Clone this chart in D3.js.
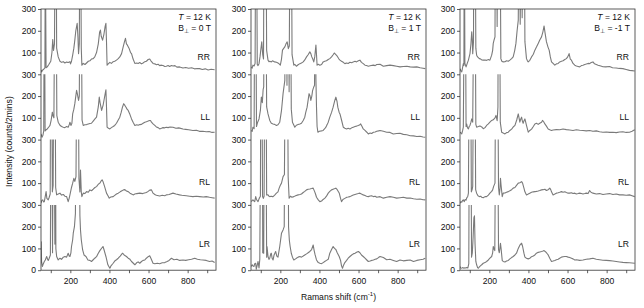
<!DOCTYPE html>
<html>
<head>
<meta charset="utf-8">
<script src="https://cdn.jsdelivr.net/npm/d3@7"></script>
<style>
  html, body { margin: 0; padding: 0; background: #fff; }
  svg { display: block; }
</style>
</head>
<body>
<div id="chart"></div>
<script>
// Raman spectra, T = 12 K, three field values, four polarisation configurations
const fields = ['0', '1', '-1'];
const polarizations = ['RR', 'LL', 'RL', 'LR'];
const xTicks = [100, 200, 300, 400, 500, 600, 700, 800, 900];
const xLabels = [200, 400, 600, 800];
const yTicks = [0, 100, 200, 300];

// [Raman shift (cm-1), counts/2mins]; spikes above 300 are clipped like the original
const b0_RR = [[50,20],[53,11],[57,18],[62,22],[70,30],[72,600],[76,30],[82,34],[90,45],[100,60],[106,100],[110,160],[114,110],[119,140],[123,800],[127,800],[130,120],[138,80],[147,60],[155,55],[164,58],[172,52],[181,56],[189,54],[198,58],[201,48],[206,60],[212,88],[218,120],[223,157],[228,200],[235,234],[239,170],[242,95],[246,140],[249,800],[252,800],[256,120],[259,42],[266,50],[275,45],[283,52],[292,60],[300,62],[308,70],[317,72],[325,80],[334,100],[343,140],[350,195],[354,203],[358,175],[365,157],[372,185],[378,220],[382,234],[385,150],[388,42],[394,48],[402,55],[410,50],[419,58],[427,60],[436,65],[445,72],[453,80],[462,95],[470,125],[477,150],[482,165],[487,140],[492,134],[500,120],[508,100],[513,95],[521,70],[530,50],[540,52],[547,50],[555,54],[564,48],[572,52],[581,58],[589,60],[598,68],[606,70],[612,62],[623,50],[632,48],[640,44],[649,46],[657,40],[666,42],[674,40],[683,36],[691,37],[700,40],[708,36],[717,40],[725,38],[735,40],[745,33],[759,34],[776,29],[790,31],[805,28],[820,30],[835,25],[850,27],[861,26],[875,22],[890,25],[905,20],[920,23],[938,21]];
const b0_LL = [[50,26],[55,11],[60,20],[64,40],[67,800],[71,40],[76,45],[82,49],[90,58],[96,65],[102,90],[108,126],[111,110],[116,100],[121,800],[127,800],[131,110],[138,80],[147,66],[155,60],[164,57],[172,55],[181,60],[189,57],[195,70],[198,80],[203,65],[208,75],[212,118],[218,140],[223,165],[228,200],[232,226],[236,210],[242,180],[246,200],[249,800],[255,800],[260,90],[266,65],[274,68],[283,69],[292,72],[300,74],[308,75],[317,85],[326,95],[334,103],[343,150],[348,195],[352,170],[360,134],[368,160],[374,190],[379,215],[382,229],[385,150],[388,57],[395,52],[402,49],[410,55],[419,60],[427,65],[436,75],[445,90],[453,103],[460,125],[467,150],[473,165],[479,157],[484,150],[490,140],[496,134],[505,115],[513,95],[521,80],[530,65],[540,68],[547,66],[555,69],[564,70],[572,75],[581,80],[589,82],[598,85],[606,88],[610,88],[615,80],[623,72],[632,65],[640,58],[649,55],[657,49],[666,52],[674,55],[683,54],[691,57],[700,55],[710,58],[725,57],[740,52],[755,54],[776,49],[790,47],[805,45],[827,42],[845,43],[860,38],[878,38],[895,36],[910,37],[925,33],[938,34]];
const b0_RL = [[50,8],[54,20],[59,23],[63,14],[67,15],[72,40],[76,61],[80,30],[87,23],[92,35],[97,50],[100,800],[104,800],[108,60],[112,90],[116,800],[121,800],[125,80],[130,46],[138,50],[147,54],[155,45],[164,48],[172,40],[181,38],[189,15],[194,30],[198,46],[206,80],[212,100],[218,122],[223,108],[229,130],[234,800],[240,800],[244,120],[249,60],[252,160],[256,60],[259,38],[266,54],[274,52],[283,61],[292,58],[300,69],[308,65],[317,72],[326,80],[334,84],[343,95],[351,100],[359,112],[363,115],[368,105],[375,85],[385,54],[394,40],[399,31],[407,36],[419,38],[427,44],[436,50],[445,54],[455,60],[464,65],[472,69],[479,70],[487,64],[496,61],[505,54],[513,50],[521,46],[530,50],[540,52],[555,54],[570,52],[589,57],[598,62],[606,68],[615,69],[623,54],[632,48],[640,44],[657,41],[670,44],[683,42],[691,46],[705,48],[725,54],[740,50],[759,46],[770,44],[793,42],[810,40],[827,38],[845,40],[861,38],[880,36],[895,38],[912,35],[925,33],[938,31]];
const b0_LR = [[50,32],[51,131],[53,40],[57,17],[62,30],[67,40],[72,47],[79,63],[84,50],[87,45],[92,55],[98,70],[101,800],[105,800],[109,80],[113,800],[117,800],[121,120],[124,800],[126,100],[130,63],[138,47],[147,55],[155,50],[164,60],[172,63],[181,60],[189,78],[194,65],[198,63],[203,80],[206,109],[212,140],[215,170],[221,200],[226,260],[230,800],[244,800],[249,250],[252,185],[256,140],[263,93],[270,70],[280,63],[290,47],[300,45],[308,40],[317,48],[325,55],[334,62],[343,78],[351,90],[360,101],[367,109],[372,95],[382,63],[392,25],[397,17],[402,9],[408,20],[419,32],[427,42],[436,48],[445,55],[455,65],[467,78],[475,70],[487,63],[496,55],[505,50],[513,40],[521,33],[530,25],[540,35],[547,38],[555,32],[564,40],[572,45],[581,47],[589,55],[598,62],[606,66],[612,55],[623,32],[632,30],[645,32],[657,30],[670,34],[683,35],[695,40],[705,45],[717,55],[730,48],[745,50],[759,45],[776,47],[790,45],[805,48],[820,50],[836,55],[850,50],[865,48],[878,47],[895,45],[912,40],[925,42],[938,35]];

const b1_RR = [[52,34],[56,28],[60,42],[66,38],[71,50],[74,800],[78,800],[82,45],[86,40],[91,49],[96,80],[100,111],[105,149],[110,90],[114,70],[117,800],[126,800],[130,110],[137,65],[142,58],[146,60],[154,57],[160,62],[171,57],[180,55],[188,52],[194,48],[200,42],[206,70],[211,111],[218,120],[223,126],[229,140],[235,149],[241,118],[246,130],[250,800],[256,800],[260,90],[269,42],[274,46],[282,37],[291,44],[300,49],[308,52],[317,57],[325,66],[334,80],[342,90],[351,103],[356,95],[361,80],[366,70],[371,57],[376,80],[382,134],[385,90],[388,42],[394,46],[402,42],[411,45],[419,57],[427,60],[436,62],[445,68],[453,72],[462,80],[470,90],[476,98],[479,95],[484,90],[491,83],[500,70],[505,65],[513,60],[522,55],[530,49],[539,52],[547,50],[556,55],[565,53],[573,57],[582,60],[590,57],[599,62],[607,65],[615,55],[624,49],[633,42],[641,40],[650,37],[659,39],[676,42],[685,40],[693,45],[710,46],[727,37],[744,40],[761,42],[778,40],[795,37],[812,34],[829,36],[847,37],[864,34],[881,33],[898,34],[915,30],[930,28],[941,26]];
const b1_LL = [[52,42],[56,38],[60,57],[66,50],[69,800],[74,800],[78,60],[84,80],[91,95],[98,134],[103,195],[106,180],[108,170],[112,230],[115,242],[118,800],[126,800],[130,150],[137,118],[146,88],[154,75],[163,72],[171,70],[180,65],[188,68],[197,80],[206,134],[214,211],[223,272],[226,800],[230,800],[234,250],[237,800],[241,800],[245,220],[249,800],[252,800],[256,140],[262,80],[270,65],[274,57],[282,66],[291,69],[300,72],[308,75],[317,88],[325,103],[330,125],[337,149],[347,211],[352,200],[356,180],[361,200],[365,225],[371,242],[375,250],[378,800],[382,280],[385,150],[388,60],[392,34],[400,38],[410,40],[419,42],[427,50],[433,57],[440,70],[445,80],[453,103],[462,125],[470,149],[477,175],[484,195],[490,175],[494,149],[501,125],[505,118],[513,90],[522,57],[530,52],[539,49],[547,52],[556,49],[565,54],[573,57],[582,60],[590,62],[599,65],[607,68],[611,72],[618,60],[624,49],[633,42],[641,35],[650,26],[659,30],[667,28],[676,34],[685,35],[693,38],[702,40],[710,42],[727,38],[744,34],[761,33],[778,26],[795,28],[812,29],[829,24],[847,22],[864,18],[881,17],[898,14],[915,15],[930,12],[941,11]];
const b1_RL = [[52,15],[56,20],[60,23],[65,18],[69,15],[74,38],[78,25],[86,15],[92,30],[98,40],[101,800],[105,800],[109,40],[113,30],[117,40],[121,800],[126,800],[130,46],[137,46],[142,40],[146,38],[154,40],[160,38],[163,38],[171,45],[180,54],[188,60],[194,77],[200,90],[206,100],[214,130],[221,140],[226,800],[236,800],[240,130],[245,31],[252,40],[259,35],[269,38],[278,42],[291,46],[300,48],[308,50],[317,57],[325,62],[334,69],[342,72],[351,73],[360,75],[368,77],[376,60],[380,50],[385,35],[394,23],[402,15],[411,18],[419,25],[428,31],[436,40],[445,54],[453,62],[462,69],[470,72],[479,75],[484,77],[491,70],[501,55],[508,30],[513,15],[520,25],[530,30],[540,35],[547,36],[556,38],[565,42],[573,45],[582,48],[590,50],[599,52],[607,54],[615,50],[624,46],[633,43],[641,40],[650,38],[659,41],[667,42],[676,38],[685,40],[693,35],[710,38],[727,31],[744,35],[761,38],[778,35],[795,31],[812,33],[829,35],[847,31],[864,32],[881,28],[898,26],[915,27],[930,24],[941,23]];
const b1_LR = [[52,17],[56,25],[60,20],[65,17],[69,30],[74,32],[77,5],[81,20],[86,40],[91,10],[95,50],[100,800],[104,800],[108,800],[110,80],[115,78],[118,800],[126,800],[130,60],[132,109],[137,63],[142,50],[146,55],[151,75],[154,78],[158,55],[163,47],[168,70],[176,86],[182,65],[188,60],[197,109],[206,170],[214,185],[220,200],[223,800],[240,800],[242,200],[246,139],[250,110],[256,78],[262,60],[269,47],[278,52],[282,55],[291,60],[300,63],[308,60],[317,65],[325,70],[334,75],[342,80],[351,86],[360,95],[368,116],[373,90],[378,70],[385,47],[394,35],[402,32],[411,30],[419,35],[427,40],[436,45],[445,50],[453,78],[462,95],[470,109],[477,100],[484,95],[491,80],[501,63],[508,45],[513,20],[518,9],[522,20],[530,35],[539,45],[547,55],[556,63],[565,70],[573,75],[582,78],[590,82],[599,86],[607,80],[615,70],[624,63],[633,55],[641,48],[650,40],[659,42],[667,45],[676,47],[685,50],[693,52],[702,58],[710,63],[727,58],[744,48],[761,50],[778,45],[795,40],[812,47],[829,43],[847,45],[864,47],[881,40],[898,45],[915,48],[930,50],[941,55]];

const bm1_RR = [[50,26],[55,15],[59,11],[63,30],[67,49],[70,40],[72,800],[75,50],[81,34],[87,50],[93,65],[101,95],[106,140],[110,195],[113,160],[115,95],[119,150],[121,800],[127,800],[131,120],[135,88],[140,80],[149,72],[156,70],[161,66],[169,65],[178,66],[186,64],[195,68],[203,65],[212,88],[217,110],[220,142],[225,160],[229,172],[231,800],[236,800],[240,220],[243,800],[254,800],[259,72],[264,60],[271,57],[280,58],[288,62],[297,60],[305,65],[314,72],[322,80],[330,110],[336,142],[342,200],[348,249],[352,800],[358,230],[363,800],[368,260],[372,800],[378,800],[382,150],[390,72],[395,62],[399,57],[407,64],[416,80],[425,92],[433,111],[441,125],[450,142],[458,158],[467,172],[474,195],[480,222],[485,190],[492,150],[500,125],[506,111],[512,80],[518,57],[526,50],[535,42],[543,48],[552,50],[560,57],[569,60],[577,62],[586,68],[594,72],[601,80],[608,95],[614,70],[620,65],[628,50],[637,42],[645,38],[654,36],[662,34],[671,40],[679,42],[688,45],[696,47],[705,50],[713,49],[721,54],[730,57],[738,48],[747,45],[756,42],[770,38],[781,35],[795,34],[815,36],[830,30],[849,29],[865,27],[883,26],[900,22],[917,18],[930,17],[943,15]];
const bm1_LL = [[50,34],[55,30],[59,26],[63,40],[67,57],[73,800],[77,800],[81,60],[84,72],[88,55],[93,49],[97,60],[101,65],[106,80],[110,95],[115,80],[122,800],[127,800],[131,70],[135,57],[144,60],[152,63],[161,58],[169,50],[178,55],[186,65],[195,72],[203,80],[212,88],[220,91],[229,100],[234,111],[240,87],[244,150],[246,800],[252,800],[256,80],[263,34],[271,30],[280,26],[288,32],[297,34],[305,42],[314,48],[322,58],[331,65],[340,90],[348,118],[352,100],[356,80],[361,95],[365,103],[369,85],[373,75],[378,88],[382,95],[386,80],[390,65],[399,34],[407,42],[416,48],[425,60],[433,72],[441,75],[450,70],[458,75],[467,80],[472,88],[478,82],[484,72],[492,62],[501,49],[509,45],[518,42],[526,44],[543,46],[560,45],[577,49],[594,46],[611,44],[628,42],[645,45],[662,43],[679,42],[696,40],[713,42],[730,38],[747,40],[764,36],[781,34],[798,35],[815,33],[832,34],[849,32],[866,35],[883,36],[900,33],[917,34],[930,38],[943,45]];
const bm1_RL = [[50,8],[55,15],[59,12],[63,20],[67,23],[72,15],[76,25],[81,22],[84,31],[90,40],[93,54],[98,800],[104,800],[108,60],[112,70],[115,85],[120,800],[126,800],[130,70],[135,54],[142,42],[149,38],[156,40],[161,35],[169,33],[178,38],[186,38],[195,45],[203,54],[212,62],[217,69],[222,85],[229,100],[233,800],[242,800],[247,80],[251,46],[254,70],[257,122],[260,90],[266,38],[271,54],[280,55],[288,58],[297,61],[305,65],[314,70],[322,77],[331,80],[339,90],[348,100],[356,102],[365,107],[370,100],[377,77],[382,60],[390,46],[399,50],[407,54],[416,58],[425,60],[433,61],[441,62],[450,64],[458,66],[467,69],[475,70],[484,72],[492,66],[501,70],[509,77],[514,70],[518,60],[526,46],[535,50],[543,54],[552,56],[560,58],[569,61],[577,58],[586,60],[594,57],[603,54],[611,54],[620,56],[628,52],[637,54],[645,50],[654,52],[662,54],[671,52],[679,50],[688,52],[696,54],[705,52],[713,66],[720,58],[730,54],[747,50],[764,52],[781,48],[798,50],[815,52],[832,48],[849,50],[866,46],[883,46],[900,44],[917,46],[930,42],[943,38]];
const bm1_LR = [[50,17],[52,12],[55,9],[60,10],[65,12],[70,9],[75,11],[80,10],[84,12],[90,10],[95,30],[98,800],[104,800],[106,700],[109,60],[113,80],[117,150],[121,240],[124,250],[127,120],[131,40],[135,25],[140,12],[144,9],[149,15],[157,22],[161,25],[169,32],[178,35],[186,40],[195,47],[203,55],[212,63],[217,80],[220,109],[225,95],[228,90],[233,800],[242,800],[247,95],[251,80],[254,100],[257,124],[260,100],[266,45],[271,40],[280,38],[288,42],[297,45],[305,52],[314,58],[322,63],[331,70],[339,78],[348,100],[356,115],[365,124],[370,110],[377,78],[382,60],[390,55],[399,52],[407,55],[416,62],[425,65],[433,70],[441,78],[450,82],[458,84],[467,86],[475,88],[480,90],[487,85],[494,78],[501,70],[509,55],[518,40],[526,42],[535,45],[543,48],[552,50],[560,55],[569,60],[577,62],[586,63],[594,63],[603,60],[611,58],[620,55],[628,52],[637,47],[645,48],[662,45],[679,47],[696,50],[713,52],[730,55],[747,50],[764,48],[781,46],[798,45],[815,44],[832,42],[849,40],[866,38],[883,36],[900,35],[917,34],[930,33],[943,32]];

const spectra = [
  [b0_RR, b0_LL, b0_RL, b0_LR],
  [b1_RR, b1_LL, b1_RL, b1_LR],
  [bm1_RR, bm1_LL, bm1_RL, bm1_LR]
];

const width = 644;
const height = 308;
const panelLeft = [41, 251, 460];
const panelW = 175;
const topY = 9;
const rowH = 65.3;
const font = "'Liberation Sans', Arial, Helvetica, sans-serif";
const fontSize = '8.6px';
const axisColor = '#333';
const lineColor = '#7a7a7a';

const svg = d3.select('#chart')
  .append('svg')
  .attr('width', width)
  .attr('height', height)
  .style('font-family', font);

const defs = svg.append('defs');

spectra.forEach((panel, p) => {
  const x = d3.scaleLinear().domain([50, 945]).range([0, panelW]);
  const g = svg.append('g').attr('transform', `translate(${panelLeft[p]},${topY})`);

  panel.forEach((data, r) => {
    const y0 = r * rowH;
    const y = d3.scaleLinear().domain([0, 300]).range([y0 + rowH, y0]);

    const clipId = `clip-${p}-${r}`;
    defs.append('clipPath').attr('id', clipId)
      .append('rect')
      .attr('x', 0).attr('y', y0)
      .attr('width', panelW).attr('height', rowH);

    const line = d3.line().x(d => x(d[0])).y(d => y(d[1]));

    g.append('path')
      .datum(data)
      .attr('clip-path', `url(#${clipId})`)
      .attr('fill', 'none')
      .attr('stroke', lineColor)
      .attr('stroke-width', 1.1)
      .attr('stroke-linejoin', 'round')
      .attr('d', line);

    // Left axis for this row
    g.append('g')
      .call(d3.axisLeft(y).tickValues(r === 3 ? yTicks : yTicks.slice(1)).tickSize(3).tickPadding(2))
      .call(a => a.select('.domain').remove())
      .call(a => a.selectAll('.tick line').attr('stroke', axisColor).attr('stroke-width', 0.8))
      .call(a => a.selectAll('.tick text')
        .attr('fill', '#111')
        .attr('font-size', fontSize)
        .attr('font-family', font));

    // Polarisation label
    const labelVal = [80, 105, 107, 120][r];
    g.append('text')
      .attr('x', panelW - 6)
      .attr('y', y(labelVal))
      .attr('dy', '0.35em')
      .attr('text-anchor', 'end')
      .attr('font-size', fontSize)
      .attr('fill', '#111')
      .text(polarizations[r]);
  });

  // Bottom axis
  g.append('g')
    .attr('transform', `translate(0,${rowH * 4})`)
    .call(d3.axisBottom(x).tickValues(xTicks).tickSize(3).tickPadding(5)
      .tickFormat(d => xLabels.includes(d) ? d : ''))
    .call(a => a.select('.domain').remove())
    .call(a => a.selectAll('.tick line').attr('stroke', axisColor).attr('stroke-width', 0.8))
    .call(a => a.selectAll('.tick text')
      .attr('fill', '#111')
      .attr('font-size', fontSize)
      .attr('font-family', font));

  // Frame
  g.append('rect')
    .attr('x', 0).attr('y', 0)
    .attr('width', panelW).attr('height', rowH * 4)
    .attr('fill', 'none')
    .attr('stroke', axisColor)
    .attr('stroke-width', 0.8);

  // Conditions
  const t = g.append('text')
    .attr('x', panelW - 5).attr('y', 11.3)
    .attr('text-anchor', 'end')
    .attr('font-size', fontSize)
    .attr('fill', '#111');
  t.append('tspan').attr('font-style', 'italic').text('T');
  t.append('tspan').text(' = 12 K');

  const b = g.append('text')
    .attr('x', panelW - 5).attr('y', 22.3)
    .attr('text-anchor', 'end')
    .attr('font-size', fontSize)
    .attr('fill', '#111');
  b.append('tspan').text('B');
  b.append('tspan').attr('font-size', '6px').attr('dy', 2).text('\u22A5');
  b.append('tspan').attr('dy', -2).text(` = ${fields[p]} T`);
});

// Axis titles
svg.append('text')
  .attr('transform', `translate(12,${topY + rowH * 2 + 2}) rotate(-90)`)
  .attr('text-anchor', 'middle')
  .attr('font-size', fontSize)
  .attr('fill', '#111')
  .text('Intensity (counts/2mins)');

const xt = svg.append('text')
  .attr('x', panelLeft[1] + panelW / 2)
  .attr('y', 300)
  .attr('text-anchor', 'middle')
  .attr('font-size', fontSize)
  .attr('fill', '#111');
xt.append('tspan').text('Ramans shift (cm');
xt.append('tspan').attr('font-size', '6px').attr('dy', -4).text('-1');
xt.append('tspan').attr('dy', 4).text(')');
</script>
</body>
</html>
